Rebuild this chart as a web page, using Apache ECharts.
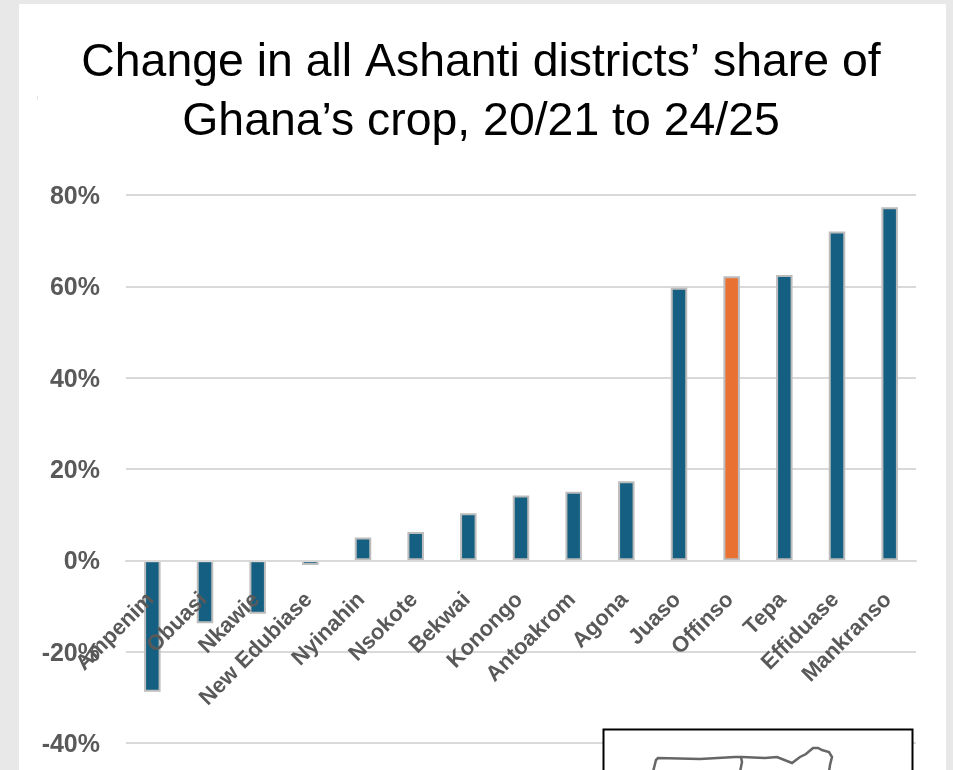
<!DOCTYPE html>
<html>
<head>
<meta charset="utf-8">
<style>html,body{margin:0;padding:0;background:#e8e8e8;overflow:hidden}#c{width:953px;height:770px}</style>
<script src="https://cdn.jsdelivr.net/npm/echarts@6/dist/echarts.min.js"></script>
</head>
<body>
<div id="c"></div>
<script>
const categories = ["Ampenim","Obuasi","Nkawie","New Edubiase","Nyinahin","Nsokote","Bekwai","Konongo","Antoakrom","Agona","Juaso","Offinso","Tepa","Effiduase","Mankranso"];
const shareChange = [-28.8,-13.8,-11.7,-1,5,6.2,10.3,14.2,15,17.3,59.7,62.2,62.5,72,77.3];
const highlighted = "Offinso";
const titleText = "Change in all Ashanti districts’ share of\nGhana’s crop, 20/21 to 24/25";
const mapOutline = [[653,772],[656,760],[658,758],[700,759],[735,757],[742,757],[765,758],[777,757],[792,763],[800,757],[806,754],[813,748],[818,748],[822,750],[829,752],[832,757],[830,765],[829,772]];
const mapInner = [[741,757],[742,762],[740,772]];

const chart = echarts.init(document.getElementById('c'), null, {renderer:'canvas'});
chart.setOption({
  animation:false,
  backgroundColor:'#e8e8e8',
  title:{
    text:titleText, left:476, top:29, textAlign:'center',
    textStyle:{fontFamily:'Liberation Sans',fontSize:46.4,fontWeight:'normal',color:'#000',lineHeight:59}
  },
  grid:{left:126,right:37,top:195,bottom:27,containLabel:false,outerBoundsMode:'none'},
  xAxis:{
    type:'category',data:categories,
    axisTick:{show:false},
    axisLine:{onZero:true,lineStyle:{color:'#d9d9d9',width:2}},
    axisLabel:{interval:0,rotate:45,margin:-148,padding:[0,2,0,0],color:'#595959',fontFamily:'Liberation Sans',fontSize:22,fontWeight:'bold'},
    z:5
  },
  yAxis:{
    type:'value',min:-40,max:80,interval:20,
    axisLine:{show:false},axisTick:{show:false},
    splitLine:{lineStyle:{color:'#d9d9d9',width:2}},
    axisLabel:{
      formatter:v=>`{v|${v}%}`,margin:26,
      rich:{v:{padding:[4,0,0,0],color:'#595959',fontFamily:'Liberation Sans',fontSize:25,fontWeight:'bold'}}
    }
  },
  series:[{
    type:'bar',barWidth:16.5,
    data:shareChange.map((v,i)=>({value:v,itemStyle:{color:categories[i]===highlighted?'#e97132':'#156082'}})),
    itemStyle:{borderColor:'#bcbcbc',borderWidth:2}
  }],
  graphic:[
    {type:'rect',z:-10,silent:true,shape:{x:19,y:4,width:927,height:766},style:{fill:'#fff'}},
    {type:'rect',z:-9,silent:true,shape:{x:37,y:96,width:1,height:4},style:{fill:'#e4e4e4'}},
    {type:'rect',z:100,silent:true,shape:{x:603.5,y:729.5,width:309,height:50},style:{fill:'#fff',stroke:'#000',lineWidth:2}},
    {type:'polyline',z:101,silent:true,shape:{points:mapOutline},style:{fill:null,stroke:'#666',lineWidth:2.5}},
    {type:'polyline',z:101,silent:true,shape:{points:mapInner},style:{fill:null,stroke:'#666',lineWidth:2.5}}
  ]
});
</script>
</body>
</html>
